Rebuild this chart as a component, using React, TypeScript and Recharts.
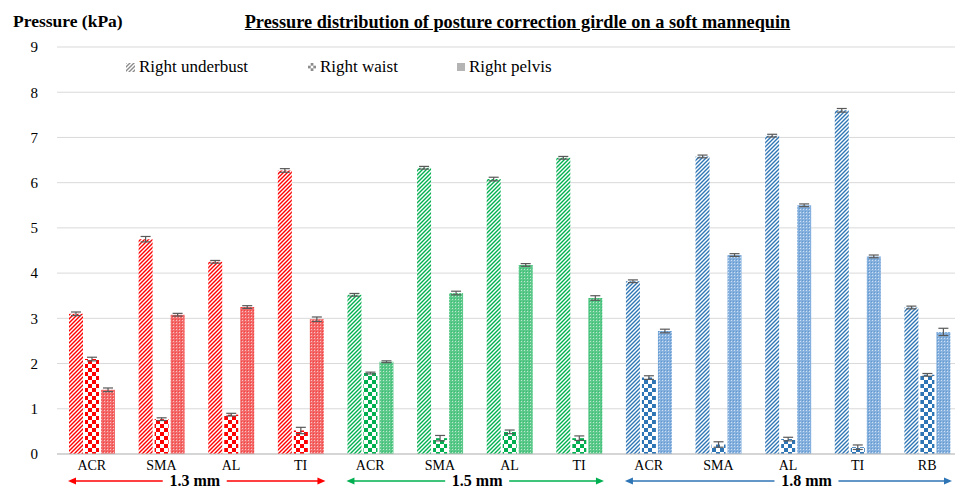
import React from 'react';
import { BarChart, Bar, XAxis, YAxis, CartesianGrid, ErrorBar, Cell } from 'recharts';

const categories = ['ACR', 'SMA', 'AL', 'TI', 'ACR', 'SMA', 'AL', 'TI', 'ACR', 'SMA', 'AL', 'TI', 'RB'];
const groupOf = ['red', 'red', 'red', 'red', 'green', 'green', 'green', 'green', 'blue', 'blue', 'blue', 'blue', 'blue'];
const underbust = [3.10, 4.75, 4.25, 6.27, 3.52, 6.33, 6.08, 6.55, 3.82, 6.58, 7.04, 7.60, 3.24];
const underbustErr = [0.04, 0.06, 0.03, 0.04, 0.03, 0.03, 0.04, 0.03, 0.03, 0.03, 0.03, 0.04, 0.03];
const waist = [2.10, 0.77, 0.87, 0.52, 1.79, 0.35, 0.49, 0.35, 1.69, 0.21, 0.33, 0.15, 1.75];
const waistErr = [0.04, 0.03, 0.03, 0.07, 0.02, 0.06, 0.04, 0.05, 0.04, 0.06, 0.04, 0.05, 0.03];
const pelvis = [1.42, 3.08, 3.25, 2.98, 2.04, 3.56, 4.18, 3.45, 2.72, 4.40, 5.50, 4.37, 2.70];
const pelvisErr = [0.04, 0.03, 0.03, 0.05, 0.02, 0.04, 0.03, 0.05, 0.04, 0.03, 0.03, 0.03, 0.08];
const yTicks = [0, 1, 2, 3, 4, 5, 6, 7, 8, 9];
const seriesNames = ['Right underbust', 'Right waist', 'Right pelvis'];
const thicknessGroups = [
  { label: '1.3 mm', color: '#FF0000', from: 0, to: 4 },
  { label: '1.5 mm', color: '#00B050', from: 4, to: 8 },
  { label: '1.8 mm', color: '#2E75B6', from: 8, to: 13 },
];
const groupLabelShift = [-4, 0, 16];

const palette: Record<string, { main: string; light: string }> = {
  red: { main: '#FF0000', light: '#F26A6A' },
  green: { main: '#00B050', light: '#5CC98A' },
  blue: { main: '#2E75B6', light: '#86B1DF' },
  gray: { main: '#8C8C8C', light: '#B4B4B4' },
};

const data = categories.map((c, i) => ({
  idx: i,
  name: c,
  underbust: underbust[i],
  underbustErr: underbustErr[i],
  waist: waist[i],
  waistErr: waistErr[i],
  pelvis: pelvis[i],
  pelvisErr: pelvisErr[i],
}));

const FONT = '"Liberation Serif", "Times New Roman", serif';

const W = 955;
const H = 485;
const PLOT_LEFT = 49;
const PLOT_RIGHT = W - 1;

function Patterns() {
  return (
    <svg width={0} height={0} style={{ position: 'absolute' }}>
      <defs>
        {Object.keys(palette).map((k) => (
          <React.Fragment key={k}>
            <pattern id={`hatch-${k}`} width={4} height={4} patternUnits="userSpaceOnUse">
              <rect width={4} height={4} fill="#fff" />
              <path d="M-1,1 l2,-2 M0,4 l4,-4 M3,5 l2,-2" stroke={palette[k].main} strokeWidth={1.4} />
            </pattern>
            <pattern id={`check-${k}`} width={8} height={8} patternUnits="userSpaceOnUse">
              <rect width={8} height={8} fill="#fff" />
              <rect x={0} y={0} width={4} height={4} fill={palette[k].main} />
              <rect x={4} y={4} width={4} height={4} fill={palette[k].main} />
            </pattern>
            <pattern id={`dots-${k}`} width={3} height={3} patternUnits="userSpaceOnUse">
              <rect width={3} height={3} fill={palette[k].light} />
              <rect x={0} y={0} width={1} height={1} fill="#fff" opacity={0.6} />
              <rect x={2} y={2} width={1} height={1} fill={palette[k].main} opacity={0.4} />
            </pattern>
          </React.Fragment>
        ))}
      </defs>
    </svg>
  );
}

const legendItemWidths = [182, 149, 120];

function LegendIcon({ kind }: { kind: number }) {
  if (kind === 0) {
    return (
      <svg width={9} height={9} style={{ marginRight: 4 }}>
        <rect width={9} height={9} fill="url(#hatch-gray)" />
      </svg>
    );
  }
  if (kind === 1) {
    return (
      <svg width={8} height={8} style={{ marginRight: 4 }}>
        <rect x={2.7} y={0} width={2.7} height={2.7} fill="#8C8C8C" />
        <rect x={0} y={2.7} width={2.7} height={2.7} fill="#8C8C8C" />
        <rect x={5.3} y={2.7} width={2.7} height={2.7} fill="#8C8C8C" />
        <rect x={2.7} y={5.3} width={2.7} height={2.7} fill="#8C8C8C" />
      </svg>
    );
  }
  return (
    <svg width={8} height={8} style={{ marginRight: 4 }}>
      <rect width={8} height={8} fill="#B4B4B4" />
    </svg>
  );
}

function LegendBox() {
  return (
    <div
      style={{
        position: 'absolute',
        left: 118,
        top: 49,
        display: 'flex',
        fontFamily: FONT,
        fontSize: 17,
        color: '#000',
        lineHeight: '20px',
      }}
    >
      {seriesNames.map((n, i) => (
        <div key={n} style={{ display: 'flex', alignItems: 'center', width: legendItemWidths[i] }}>
          <LegendIcon kind={i} />
          <span>{n}</span>
        </div>
      ))}
    </div>
  );
}

function GroupArrows() {
  const band = (PLOT_RIGHT - PLOT_LEFT) / categories.length;
  const y = 473;
  return (
    <svg width={W} height={H} style={{ position: 'absolute', left: 0, top: 0, pointerEvents: 'none' }}>
      {thicknessGroups.map((g, gi) => {
        const x1 = PLOT_LEFT + g.from * band + 11;
        const x2 = PLOT_LEFT + g.to * band - 10;
        const cx = (x1 + x2) / 2 + groupLabelShift[gi];
        const half = 40;
        return (
          <g key={g.label}>
            <line x1={x1 + 6} y1={y} x2={cx - half + 10} y2={y} stroke={g.color} strokeWidth={1.3} />
            <polygon points={`${x1},${y} ${x1 + 8},${y - 3.5} ${x1 + 8},${y + 3.5}`} fill={g.color} />
            <line x1={cx + half - 6} y1={y} x2={x2 - 6} y2={y} stroke={g.color} strokeWidth={1.3} />
            <polygon points={`${x2},${y} ${x2 - 8},${y - 3.5} ${x2 - 8},${y + 3.5}`} fill={g.color} />
            <text x={cx + 2} y={y + 5} textAnchor="middle" fontFamily={FONT} fontWeight="bold" fontSize={16} fill="#000">
              {g.label}
            </text>
          </g>
        );
      })}
    </svg>
  );
}

export default function App() {
  return (
    <div style={{ position: 'relative', width: W, height: H, background: '#fff' }}>
      <Patterns />
      <BarChart
        width={W}
        height={H}
        data={data}
        margin={{ top: 39, right: 1, bottom: 0, left: 0 }}
        barCategoryGap={12}
        barGap={2}
      >
        <CartesianGrid vertical={false} stroke="#D9D9D9" strokeWidth={1} />
        <XAxis
          dataKey="idx"
          type="category"
          height={39}
          tickLine={false}
          tickSize={0}
          tickMargin={6}
          axisLine={{ stroke: '#BFBFBF' }}
          tickFormatter={(v: number) => categories[v]}
          tick={{ fontFamily: FONT, fontSize: 14, fill: '#000' }}
          interval={0}
        />
        <YAxis
          domain={[0, 9]}
          ticks={yTicks}
          width={49}
          tickLine={false}
          axisLine={false}
          tickSize={0}
          tickMargin={19}
          tick={{ fontFamily: FONT, fontSize: 15, fill: '#000' }}
          interval={0}
        />
        <Bar dataKey="underbust" name={seriesNames[0]} isAnimationActive={false}>
          {data.map((d, i) => (
            <Cell key={i} fill={`url(#hatch-${groupOf[i]})`} />
          ))}
          <ErrorBar dataKey="underbustErr" width={5} stroke="#595959" strokeWidth={1.2} />
        </Bar>
        <Bar dataKey="waist" name={seriesNames[1]} isAnimationActive={false}>
          {data.map((d, i) => (
            <Cell key={i} fill={`url(#check-${groupOf[i]})`} />
          ))}
          <ErrorBar dataKey="waistErr" width={5} stroke="#595959" strokeWidth={1.2} />
        </Bar>
        <Bar dataKey="pelvis" name={seriesNames[2]} isAnimationActive={false}>
          {data.map((d, i) => (
            <Cell key={i} fill={`url(#dots-${groupOf[i]})`} />
          ))}
          <ErrorBar dataKey="pelvisErr" width={5} stroke="#595959" strokeWidth={1.2} />
        </Bar>
      </BarChart>
      <div style={{ position: 'absolute', left: 5, top: 3, fontFamily: FONT, fontWeight: 'bold', fontSize: 17.5 }}>
        Pressure (kPa)
      </div>
      <div
        style={{
          position: 'absolute',
          left: 32,
          width: W,
          top: 4,
          textAlign: 'center',
          fontFamily: FONT,
          fontWeight: 'bold',
          fontSize: 18.3,
        }}
      >
        <span style={{ textDecoration: 'underline' }}>
          Pressure distribution of posture correction girdle on a soft mannequin
        </span>
      </div>
      <LegendBox />
      <GroupArrows />
    </div>
  );
}
